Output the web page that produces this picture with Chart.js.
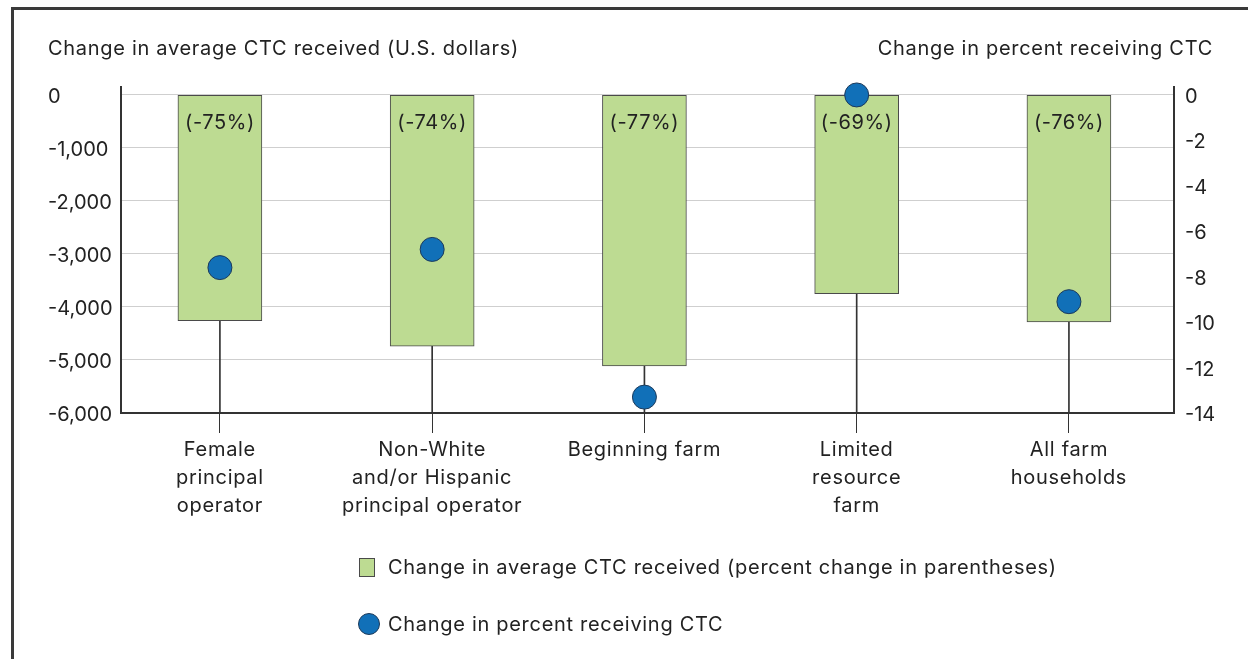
<!DOCTYPE html>
<html>
<head>
<meta charset="utf-8">
<script src="https://cdn.jsdelivr.net/npm/chart.js@4.4.1/dist/chart.umd.min.js"></script>
<style>
  html, body { margin: 0; padding: 0; background: #fff; }
  body { width: 1248px; height: 659px; position: relative; overflow: hidden; font-family: Inter, sans-serif; color: #222; }
  #frame { position: absolute; left: 11px; top: 7px; width: 1400px; height: 800px; border-top: 3px solid #3a3a3a; border-left: 3px solid #3a3a3a; pointer-events: none; }
  .axis-title { position: absolute; top: 36px; font-size: 20px; letter-spacing: 0.7px; white-space: nowrap; }
  #title-left { left: 48px; }
  #title-right { right: 35px; }
  #legend { position: absolute; left: 358px; top: 553px; font-size: 20px; letter-spacing: 0.7px; }
  #legend .item { display: flex; align-items: center; height: 28px; margin-bottom: 29px; white-space: nowrap; }
  #legend .swatch { width: 22px; margin-right: 8px; display: flex; justify-content: center; }
</style>
</head>
<body>
<canvas id="ctcChart" width="1248" height="659"></canvas>
<div id="frame"></div>
<div class="axis-title" id="title-left">Change in average CTC received (U.S. dollars)</div>
<div class="axis-title" id="title-right">Change in percent receiving CTC</div>
<div id="legend"></div>
<script>
// Data
const categories = [
    ['Female', 'principal', 'operator'],
    ['Non-White', 'and/or Hispanic', 'principal operator'],
    'Beginning farm',
    ['Limited', 'resource', 'farm'],
    ['All farm', 'households']
];
const avgCtcChange = [-4260, -4740, -5110, -3750, -4280];   // dollars
const pctChangeLabels = ['(-75%)', '(-74%)', '(-77%)', '(-69%)', '(-76%)'];
const pctReceivingChange = [-7.6, -6.8, -13.3, 0, -9.1];   // percentage points
const leftTicks = [0, -1000, -2000, -3000, -4000, -5000, -6000];
const rightTicks = [0, -2, -4, -6, -8, -10, -12, -14];

const barLabel = 'Change in average CTC received (percent change in parentheses)';
const dotLabel = 'Change in percent receiving CTC';
const green = '#bddb92';
const blue = '#1170b8';
const dark = '#333';
const fontFamily = 'Inter, sans-serif';

// bar top sits 8px below chart top -> small headroom above 0
const headroom = 0.025;
const leftMin = leftTicks[leftTicks.length - 1];
const rightMin = rightTicks[rightTicks.length - 1];

// categories placed on a numeric axis (first slot is a bit narrower than the last)
const catIdx = categories.map((c, i) => i);
const xMin = -0.466, xMax = categories.length - 0.505;

// percent labels inside the top of each bar
const barLabelPlugin = {
    id: 'barLabels',
    afterDatasetsDraw(chart) {
        const ctx = chart.ctx;
        const meta = chart.getDatasetMeta(1);
        const y0 = chart.scales.y.getPixelForValue(0);
        ctx.save();
        ctx.font = '20px ' + fontFamily;
        ctx.letterSpacing = '0.6px';
        ctx.fillStyle = '#222';
        ctx.textAlign = 'center';
        ctx.textBaseline = 'middle';
        meta.data.forEach((bar, i) => {
            ctx.fillText(pctChangeLabels[i], bar.x, y0 + 28);
        });
        ctx.restore();
    }
};

const chart = new Chart(document.getElementById('ctcChart'), {
    type: 'bar',
    data: {
        datasets: [
            {
                type: 'line',
                label: dotLabel,
                data: catIdx.map(i => ({ x: i, y: pctReceivingChange[i] })),
                yAxisID: 'y2',
                showLine: false,
                pointRadius: 12,
                pointBackgroundColor: blue,
                pointBorderColor: '#1d3a5a',
                pointBorderWidth: 1,
                backgroundColor: blue,
                borderColor: '#1d3a5a',
                clip: false,
                order: 0
            },
            {
                label: barLabel,
                data: catIdx.map(i => ({ x: i, y: avgCtcChange[i] })),
                yAxisID: 'y',
                backgroundColor: green,
                borderColor: '#4a4a4a',
                borderWidth: 1,
                borderSkipped: false,
                barThickness: 84,
                grouped: false,
                order: 1
            },
            {
                // thin connector from the bar end down to the axis
                label: 'connector',
                data: catIdx.map(i => ({ x: i, y: [leftMin, avgCtcChange[i]] })),
                yAxisID: 'y',
                backgroundColor: dark,
                barThickness: 1,
                grouped: false,
                order: 2
            }
        ]
    },
    options: {
        responsive: false,
        animation: false,
        layout: { padding: { left: 48, right: 14, top: 87, bottom: 0 } },
        plugins: {
            legend: { display: false },
            tooltip: { enabled: false }
        },
        scales: {
            x: {
                type: 'linear',
                min: xMin,
                max: xMax,
                offset: false,
                afterBuildTicks(scale) { scale.ticks = catIdx.map(v => ({ value: v })); },
                grid: { offset: false, drawOnChartArea: false, drawTicks: true, tickLength: 20, color: dark, lineWidth: 1 },
                border: { color: dark, width: 2 },
                ticks: {
                    color: '#222',
                    font: { family: fontFamily, size: 20, lineHeight: 1.4 },
                    padding: 3,
                    maxRotation: 0,
                    autoSkip: false,
                    callback: v => categories[v]
                },
                afterFit(scale) { scale.height = 246; },
                afterUpdate(scale) {
                    // slightly looser letter spacing for the category labels
                    if (scale._spaced) return;
                    scale._spaced = true;
                    const orig = scale.drawLabels;
                    scale.drawLabels = function (area) {
                        this.ctx.letterSpacing = '0.7px';
                        orig.call(this, area);
                        this.ctx.letterSpacing = '0px';
                    };
                }
            },
            y: {
                position: 'left',
                min: leftMin,
                max: -leftMin * headroom,
                afterBuildTicks(scale) { scale.ticks = leftTicks.map(v => ({ value: v })); },
                grid: { drawTicks: false, color: '#cfcfcf', lineWidth: 1 },
                border: { color: dark, width: 2 },
                ticks: {
                    crossAlign: 'far',
                    labelOffset: 2,
                    color: '#222',
                    font: { family: fontFamily, size: 20 },
                    callback: v => v.toLocaleString('en-US')
                },
                afterFit(scale) { scale.width = 73; }
            },
            y2: {
                position: 'right',
                min: rightMin,
                max: -rightMin * headroom,
                afterBuildTicks(scale) { scale.ticks = rightTicks.map(v => ({ value: v })); },
                grid: { drawOnChartArea: false, drawTicks: false },
                border: { color: dark, width: 2 },
                ticks: { color: '#222', padding: 11, labelOffset: 2, font: { family: fontFamily, size: 20 } },
                afterFit(scale) { scale.width = 60; }
            }
        }
    },
    plugins: [barLabelPlugin]
});

// HTML legend built from the datasets
const legend = document.getElementById('legend');
[chart.data.datasets[1], chart.data.datasets[0]].forEach(ds => {
    const item = document.createElement('div');
    item.className = 'item';
    const sw = document.createElement('span');
    sw.className = 'swatch';
    const mark = document.createElement('span');
    if (ds.type === 'line') {
        mark.style.cssText = 'width:22px;height:22px;border-radius:50%;background:' + blue + ';border:1px solid #1d3a5a;box-sizing:border-box;';
    } else {
        mark.style.cssText = 'width:16px;height:19px;background:' + green + ';border:1px solid #4a4a4a;box-sizing:border-box;margin-left:-4px;';
    }
    sw.appendChild(mark);
    const txt = document.createElement('span');
    txt.textContent = ds.label;
    item.appendChild(sw);
    item.appendChild(txt);
    legend.appendChild(item);
});
</script>
</body>
</html>
